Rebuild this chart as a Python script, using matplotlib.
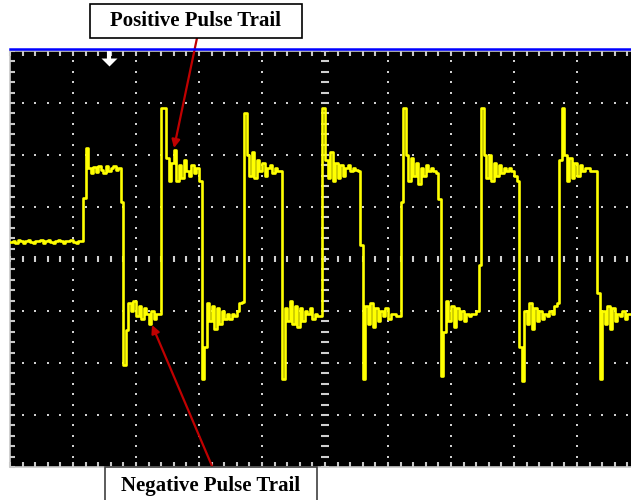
import numpy as np
import matplotlib.pyplot as plt
from matplotlib.ticker import MultipleLocator
from matplotlib.lines import Line2D
from matplotlib.patches import Rectangle

# scope trace, 25 samples per division, values in divisions
sample_step = 0.04

pre_trigger = [0.33, 0.35, 0.31, 0.37, 0.35, 0.31, 0.35, 0.37, 0.33, 0.31,
               0.35, 0.35, 0.37, 0.31, 0.35, 0.37, 0.33, 0.31, 0.35, 0.37,
               0.35, 0.31, 0.35, 0.35, 0.37, 0.33, 0.31, 0.35, 0.35]
cycle_1 = [1.17, 2.13, 1.75, 1.65, 1.77, 1.67, 1.79, 1.71, 1.65, 1.79,
           1.69, 1.75, 1.79, 1.71, 1.75, 1.1,
           -2.04, -1.37, -0.85, -1.0, -0.8, -1.1, -0.9, -1.15, -0.95, -1.05,
           -1.25, -1.0, -1.15, -1.05, -1.05]
cycle_2 = [2.9, 2.9, 1.95, 1.5, 1.85, 2.1, 1.5, 1.8, 1.55, 1.9,
           1.7, 1.6, 1.8, 1.65, 1.75, 1.5,
           -2.3, -1.7, -0.85, -1.2, -0.9, -1.35, -0.95, -1.25, -1.0, -1.15,
           -1.05, -1.15, -1.05, -1.1, -1.0, -0.85, -0.83]
cycle_3 = [2.8, 2.0, 1.6, 2.05, 1.55, 1.9, 1.7, 1.85, 1.6, 1.75,
           1.8, 1.65, 1.75, 1.7, 1.7,
           -2.3, -0.95, -1.2, -0.8, -1.25, -0.9, -1.3, -0.95, -1.2, -1.0,
           -1.05, -0.95, -1.15, -1.05, -1.1, -1.1]
cycle_4 = [2.9, 1.9, 1.55, 2.05, 1.5, 1.85, 1.55, 1.8, 1.6, 1.75,
           1.8, 1.7, 1.75, 1.72, 1.7, 0.27,
           -2.3, -0.9, -1.25, -0.85, -1.3, -0.95, -1.2, -1.0, -1.1, -0.95,
           -1.15, -1.05, -1.05, -1.1, -1.1]
cycle_5 = [1.1, 2.9, 2.0, 1.5, 1.95, 1.6, 1.85, 1.45, 1.75, 1.6,
           1.8, 1.7, 1.75, 1.7, 1.65, 1.15,
           -2.25, -1.4, -0.8, -1.2, -0.9, -1.3, -0.95, -1.15, -1.0, -1.2,
           -1.05, -1.1, -1.05, -1.05, -1.0, -0.12]
cycle_6 = [2.9, 2.0, 1.55, 2.0, 1.5, 1.85, 1.6, 1.8, 1.65, 1.75,
           1.7, 1.75, 1.7, 1.6, 1.5,
           -1.7, -2.35, -1.0, -1.25, -0.85, -1.35, -0.95, -1.2, -1.0, -1.15,
           -1.05, -1.1, -1.0, -1.05, -0.9, -0.85]
cycle_7 = [1.9, 2.9, 2.0, 1.5, 1.95, 1.55, 1.85, 1.6, 1.8, 1.7,
           1.75, 1.75, 1.7, 1.7, 1.7,
           -0.65, -2.3, -1.0, -1.25, -0.9, -1.35, -0.95, -1.2, -1.05, -1.1,
           -1.0, -1.15, -1.05, -1.05]

trace = np.array(pre_trigger + cycle_1 + cycle_2 + cycle_3 + cycle_4 +
                 cycle_5 + cycle_6 + cycle_7)
t = np.arange(len(trace)) * sample_step

W, H = 631, 500
fig = plt.figure(figsize=(W / 100, H / 100), dpi=100)
ax = fig.add_axes([10 / W, 33 / H, 621 / W, 416 / H])
ax.set_facecolor('black')
ax.set_xlim(0, 621 / 63)
ax.set_ylim(-4, 4)

grid_col = '#d0d0d0'
minor_x = np.arange(0, 10.01, 0.2)
minor_y = np.arange(-4, 4.01, 0.2)
dot = dict(ls='none', marker='s', ms=2.0, mew=0, color=grid_col, zorder=1)
for gx in [1, 2, 3, 4, 6, 7, 8, 9]:
    ax.plot(np.full_like(minor_y, gx), minor_y, **dot)
for gy in [-3, -2, -1, 1, 2, 3]:
    ax.plot(minor_x, np.full_like(minor_x, gy), **dot)
ax.plot(minor_x, np.zeros_like(minor_x), ls='none', marker='|', ms=4.5,
        mew=1.5, color=grid_col, zorder=1)
ax.plot(np.full_like(minor_y, 5), minor_y, ls='none', marker='_', ms=5.5,
        mew=1.5, color=grid_col, zorder=1)

ax.xaxis.set_major_locator(MultipleLocator(1))
ax.xaxis.set_minor_locator(MultipleLocator(0.2))
ax.yaxis.set_major_locator(MultipleLocator(1))
ax.yaxis.set_minor_locator(MultipleLocator(0.2))
ax.tick_params(which='both', direction='in', length=3.5, width=1.5,
               color='#c8c8c8', top=True, bottom=True, left=True, right=False,
               labelbottom=False, labelleft=False)
for side in ['left', 'bottom', 'top']:
    ax.spines[side].set_color('#c8c8c8')
    ax.spines[side].set_linewidth(1.2)
ax.spines['right'].set_visible(False)

# trigger position marker
ax.plot([1.57], [3.93], marker='|', ms=7, mew=3, color='white', zorder=4)
ax.plot([1.57], [3.79], marker=[(-1, 0.5), (1, 0.5), (0, -0.5)], ms=11.5,
        mew=0, color='white', ls='none', zorder=4)

ax.plot(t, trace, drawstyle='steps-post', color='#ffff00', lw=1.9, zorder=3)

fig.add_artist(Line2D([10 / W, 1], [(H - 48.5) / H] * 2, color='#0000ff', lw=1.8))

# annotation boxes and arrows
fig.add_artist(Rectangle((90 / W, (H - 38) / H), 212 / W, 34 / H,
                         fc='white', ec='black', lw=1.2))
fig.text(196 / W, (H - 21) / H, 'Positive Pulse Trail', ha='center', va='center',
         fontsize=15, fontweight='bold', family='Liberation Serif')
fig.add_artist(Rectangle((105 / W, -5 / H), 212 / W, 38 / H,
                         fc='white', ec='#404040', lw=1.2))
fig.text(211 / W, 14 / H, 'Negative Pulse Trail', ha='center', va='center',
         fontsize=15, fontweight='bold', family='Liberation Serif')

arrow = dict(arrowstyle='-|>', color='#c00000', lw=1.6, mutation_scale=12,
             shrinkA=0, shrinkB=0)
ax.annotate('', xy=(174, H - 148), xytext=(197, H - 38), xycoords='figure pixels',
            textcoords='figure pixels', arrowprops=arrow, annotation_clip=False,
            zorder=5)
ax.annotate('', xy=(152, H - 325), xytext=(212, H - 466), xycoords='figure pixels',
            textcoords='figure pixels', arrowprops=arrow, annotation_clip=False,
            zorder=5)

fig.savefig('out.png', dpi=100, facecolor='white')
